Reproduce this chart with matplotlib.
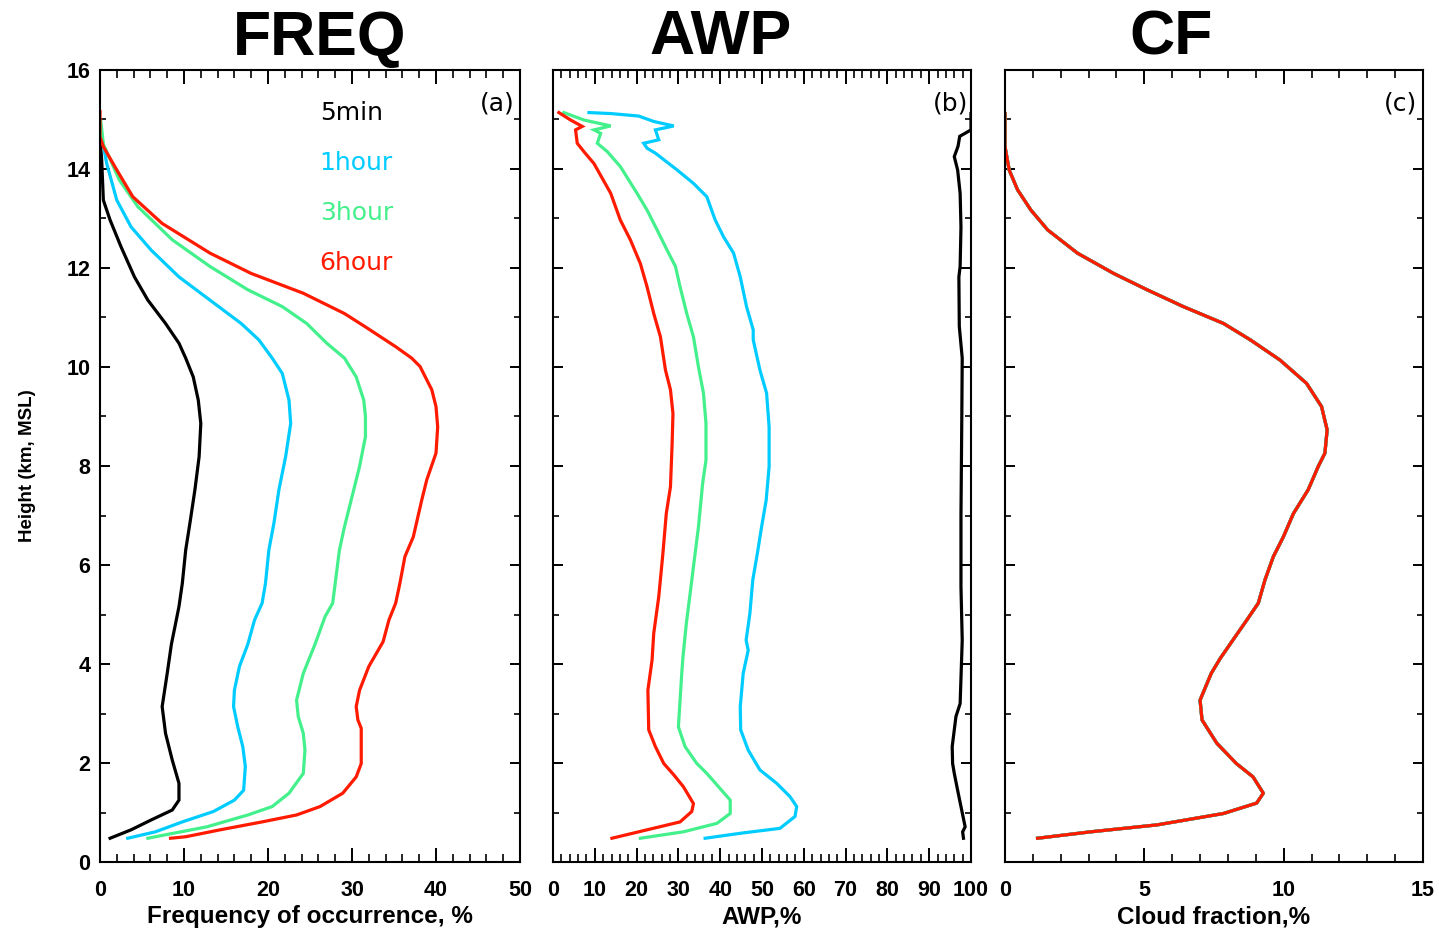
import matplotlib
matplotlib.use("Agg")
import matplotlib.pyplot as plt
from matplotlib.ticker import MultipleLocator

# ---- Frequency of occurrence (%) vs height (km) ----
freq_5min_h = [14.65, 14.18, 13.37, 12.97, 12.43, 11.82, 11.35, 10.88, 10.48, 10.18, 9.80, 9.33,
               8.86, 8.19, 7.52, 6.84, 6.30, 5.63, 5.16, 4.82, 4.40, 3.81, 3.14, 2.60, 2.06, 1.59,
               1.25, 1.05, 0.85, 0.65, 0.48]
freq_5min = [0.0, 0.2, 0.4, 1.2, 2.5, 4.1, 5.7, 7.8, 9.4, 10.2, 11.1, 11.7,
             12.0, 11.8, 11.3, 10.7, 10.2, 9.8, 9.4, 9.0, 8.5, 8.0, 7.4, 7.8, 8.6, 9.4,
             9.4, 8.6, 6.1, 3.7, 1.2]

freq_1hour_h = [14.65, 14.11, 13.37, 12.83, 12.36, 11.82, 11.35, 10.88, 10.55, 10.18, 9.87, 9.33,
                8.86, 8.19, 7.52, 6.84, 6.30, 5.63, 5.23, 4.89, 4.40, 3.95, 3.47, 3.14, 2.73, 2.33,
                1.93, 1.45, 1.25, 1.02, 0.81, 0.61, 0.48]
freq_1hour = [0.2, 0.8, 2.0, 3.7, 6.1, 9.4, 13.1, 16.8, 18.9, 20.5, 21.7, 22.5,
              22.7, 22.1, 21.3, 20.7, 20.1, 19.7, 19.3, 18.4, 17.6, 16.6, 16.0, 15.9, 16.4, 17.0,
              17.3, 17.1, 16.0, 13.5, 9.8, 6.6, 3.3]

freq_3hour_h = [14.96, 14.50, 13.78, 13.24, 12.57, 12.03, 11.56, 11.22, 10.88, 10.48, 10.18, 9.80,
                9.33, 9.00, 8.59, 7.99, 7.31, 6.77, 6.30, 5.63, 5.23, 4.96, 4.40, 3.81, 3.27, 2.94,
                2.60, 2.26, 1.79, 1.39, 1.12, 0.95, 0.71, 0.55, 0.48]
freq_3hour = [0.1, 0.4, 2.3, 4.5, 8.6, 13.1, 17.6, 21.7, 24.6, 27.0, 29.1, 30.5,
              31.4, 31.6, 31.6, 30.9, 29.9, 29.1, 28.5, 28.0, 27.7, 26.8, 25.6, 24.2, 23.4, 23.6,
              24.2, 24.4, 24.2, 22.5, 20.5, 17.6, 12.7, 7.8, 5.7]

freq_6hour_h = [15.16, 14.65, 14.45, 13.98, 13.44, 12.90, 12.30, 11.89, 11.49, 11.08, 10.81, 10.41,
                10.18, 10.01, 9.54, 9.20, 8.79, 8.26, 7.72, 7.31, 6.57, 6.17, 5.63, 5.23, 4.89, 4.45,
                3.95, 3.47, 3.14, 2.87, 2.70, 1.99, 1.72, 1.39, 1.12, 0.95, 0.81, 0.65, 0.51, 0.48]
freq_6hour = [0.0, 0.0, 0.4, 2.0, 3.9, 7.4, 13.1, 18.0, 24.2, 29.1, 31.6, 35.2,
              37.1, 38.1, 39.5, 40.0, 40.2, 40.0, 38.9, 38.3, 37.3, 36.3, 35.7, 35.2, 34.4, 33.7,
              32.0, 30.9, 30.5, 30.7, 31.1, 31.1, 30.5, 28.9, 26.2, 23.4, 19.3, 14.3, 10.2, 8.4]

# ---- AWP (%) vs height (km) ----
awp_5min_h = [15.12, 14.95, 14.79, 14.66, 14.46, 14.25, 13.98, 13.51, 12.83, 12.03, 11.82, 10.82,
              10.18, 9.0, 8.0, 7.0, 6.0, 5.56, 4.48, 3.20, 2.94, 2.33, 1.99, 1.79, 1.45, 1.12,
              0.71, 0.61, 0.48]
awp_5min = [100.0, 100.0, 100.0, 97.3, 96.9, 96.0, 96.8, 97.4, 97.6, 97.4, 97.1, 97.2,
            97.9, 97.8, 97.7, 97.6, 97.6, 97.6, 97.9, 97.4, 96.4, 95.5, 95.6, 96.0, 96.8, 97.6,
            98.6, 98.0, 98.2]

awp_1hour_h = [15.14, 15.12, 15.07, 14.96, 14.87, 14.79, 14.59, 14.52, 14.42, 14.32, 13.98, 13.71,
               13.44, 12.97, 12.63, 12.30, 11.82, 11.22, 10.75, 10.55, 9.94, 9.47, 8.79, 7.99,
               7.31, 6.77, 6.24, 5.70, 5.02, 4.48, 4.28, 3.81, 3.14, 2.67, 2.26, 1.86, 1.59,
               1.32, 1.12, 0.92, 0.68, 0.58, 0.48]
awp_1hour = [8.6, 13.8, 20.5, 24.1, 28.9, 24.5, 25.3, 21.7, 22.5, 24.5, 29.7, 33.6,
             36.8, 38.8, 40.8, 43.2, 44.8, 46.3, 47.9, 47.9, 49.5, 51.1, 51.7, 51.7,
             51.0, 49.9, 48.9, 47.8, 47.1, 46.2, 46.7, 45.5, 44.8, 44.9, 46.7, 49.5, 53.5,
             56.7, 58.3, 57.9, 54.3, 44.8, 36.4]

awp_3hour_h = [15.14, 14.99, 14.87, 14.79, 14.72, 14.52, 14.35, 14.05, 13.51, 13.17, 12.77, 12.36,
               12.03, 11.62, 11.08, 10.61, 10.0, 9.47, 8.86, 8.12, 7.65, 6.77, 6.10, 5.42, 4.82,
               4.15, 3.81, 2.73, 2.33, 1.99, 1.79, 1.52, 1.25, 0.98, 0.78, 0.61, 0.48]
awp_3hour = [2.6, 7.4, 13.8, 9.8, 11.4, 10.6, 13.0, 16.1, 20.1, 22.5, 24.9, 27.3,
             29.3, 30.4, 32.0, 33.6, 34.8, 36.0, 36.6, 36.6, 35.8, 34.8, 33.8, 32.8, 31.9,
             31.1, 30.8, 30.0, 31.6, 34.4, 36.8, 39.6, 42.4, 42.4, 39.2, 31.2, 20.9]

awp_6hour_h = [15.14, 14.99, 14.86, 14.79, 14.52, 14.35, 14.11, 13.51, 12.97, 12.57, 12.09, 11.62,
               11.08, 10.61, 9.94, 9.54, 9.06, 8.46, 7.58, 7.04, 6.24, 5.36, 4.62, 4.08, 3.47,
               2.67, 2.33, 1.99, 1.76, 1.52, 1.18, 1.02, 0.81, 0.65, 0.48]
awp_6hour = [1.4, 4.2, 7.0, 5.4, 5.8, 7.4, 9.8, 13.8, 16.1, 18.5, 20.9, 22.5,
             24.1, 25.7, 26.9, 28.1, 28.7, 28.5, 28.1, 27.1, 26.3, 25.3, 24.1, 23.7, 22.7,
             22.9, 24.5, 26.5, 28.9, 31.2, 33.6, 33.2, 30.4, 22.5, 14.1]

# ---- Cloud fraction (%) vs height (km); all averaging intervals coincide ----
cf_h = [15.12, 14.45, 13.98, 13.58, 13.17, 12.77, 12.30, 11.89, 11.56, 11.22, 10.88, 10.55,
        10.14, 9.67, 9.20, 8.73, 8.26, 7.99, 7.52, 7.04, 6.57, 6.17, 5.70, 5.23, 4.89, 4.55,
        4.11, 3.81, 3.27, 2.87, 2.40, 1.99, 1.72, 1.39, 1.19, 0.98, 0.75, 0.61, 0.48]
cf_pct = [0.0, 0.0, 0.15, 0.45, 0.93, 1.53, 2.6, 3.9, 5.1, 6.4, 7.84, 8.8,
          9.87, 10.82, 11.36, 11.56, 11.48, 11.24, 10.88, 10.35, 9.99, 9.63, 9.33, 9.09, 8.68, 8.26,
          7.72, 7.4, 7.0, 7.07, 7.6, 8.3, 8.9, 9.27, 9.03, 7.84, 5.46, 3.08, 1.17]

series_names = ["5min", "1hour", "3hour", "6hour"]
series_colors = ["#000000", "#00CCFF", "#44F08C", "#FF1A00"]

freq_x = [freq_5min, freq_1hour, freq_3hour, freq_6hour]
freq_y = [freq_5min_h, freq_1hour_h, freq_3hour_h, freq_6hour_h]
awp_x = [awp_5min, awp_1hour, awp_3hour, awp_6hour]
awp_y = [awp_5min_h, awp_1hour_h, awp_3hour_h, awp_6hour_h]

plt.rcParams["font.family"] = ["Liberation Sans", "DejaVu Sans"]

W, H = 1439, 930
fig = plt.figure(figsize=(W / 100, H / 100), dpi=100)

bottom = (H - 862) / H
height = 792 / H
ax_a = fig.add_axes([100 / W, bottom, 420 / W, height])
ax_b = fig.add_axes([553 / W, bottom, 418 / W, height])
ax_c = fig.add_axes([1005 / W, bottom, 418 / W, height])

LW = 2.3
for xs, ys, col in zip(freq_x, freq_y, series_colors):
    ax_a.plot(xs, ys, color=col, lw=LW, solid_joinstyle="miter")
for xs, ys, col in zip(awp_x, awp_y, series_colors):
    ax_b.plot(xs, ys, color=col, lw=LW, solid_joinstyle="miter")
for col in series_colors:
    ax_c.plot(cf_pct, cf_h, color=col, lw=LW)

tick_font = dict(fontsize=15.5, fontweight="bold")


def style_axis(ax, xmax, xmajor, xminor, show_ylabels):
    ax.set_xlim(0, xmax)
    ax.set_ylim(0, 16)
    ax.xaxis.set_major_locator(MultipleLocator(xmajor))
    ax.xaxis.set_minor_locator(MultipleLocator(xminor))
    ax.yaxis.set_major_locator(MultipleLocator(2))
    ax.yaxis.set_minor_locator(MultipleLocator(1))
    ax.tick_params(axis="x", which="major", direction="in", top=True, bottom=True,
                   length=10, width=1.4, pad=13)
    ax.tick_params(axis="x", which="minor", direction="in", top=True, bottom=True,
                   length=5.5, width=1.2)
    ax.tick_params(axis="y", which="major", direction="in", left=True, right=True,
                   length=7, width=1.4, pad=7, labelleft=show_ylabels)
    ax.tick_params(axis="y", which="minor", direction="in", left=True, right=True,
                   length=4.5, width=1.2)
    for lab in ax.get_xticklabels() + ax.get_yticklabels():
        lab.set_fontsize(tick_font["fontsize"])
        lab.set_fontweight(tick_font["fontweight"])
    for sp in ax.spines.values():
        sp.set_linewidth(1.5)


style_axis(ax_a, 50, 10, 2, True)
style_axis(ax_b, 100, 10, 2, False)
style_axis(ax_c, 15, 5, 1, False)

label_font = dict(fontsize=17.5, fontweight="bold")
ax_a.set_xlabel("Frequency of occurrence, %", labelpad=3, **label_font)
ax_b.set_xlabel("AWP,%", labelpad=3, **label_font)
ax_c.set_xlabel("Cloud fraction,%", labelpad=3, **label_font)
ax_a.set_ylabel("Height (km, MSL)", labelpad=22, fontsize=13.5, fontweight="bold")

thin_font = dict(fontsize=18, fontweight="normal", family=["DejaVu Sans"])
for i, (name, col) in enumerate(zip(series_names, series_colors)):
    ax_a.text(0.523, 0.946 - i * 0.0633, name, color=col, transform=ax_a.transAxes,
              ha="left", va="center", **thin_font)

for ax, tag, xf in [(ax_a, "(a)", 0.945), (ax_b, "(b)", 0.95), (ax_c, "(c)", 0.945)]:
    ax.text(xf, 0.958, tag, transform=ax.transAxes, ha="center", va="center", **thin_font)

title_font = dict(fontsize=45, fontweight="bold", ha="center", va="center")
fig.text(320 / W, 1 - 38 / H, "FREQ", **title_font)
fig.text(721 / W, 1 - 38 / H, "AWP", **title_font)
fig.text(1171 / W, 1 - 38 / H, "CF", **title_font)

fig.savefig("out.png", dpi=100)
